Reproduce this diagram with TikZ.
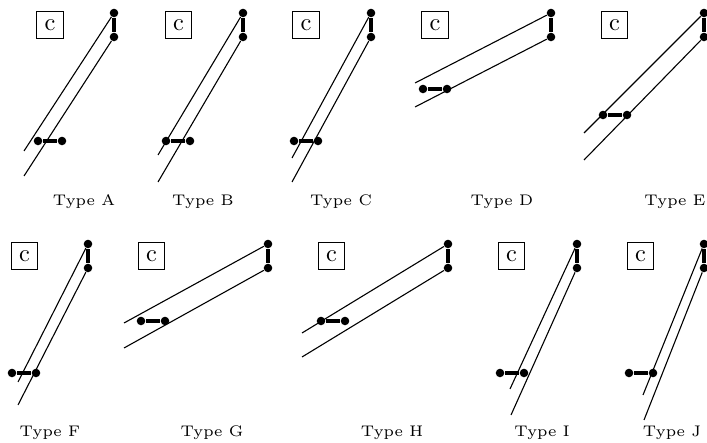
\documentclass[tikz,border=0pt]{standalone}
\usepackage{tikz}

\begin{document}
\begin{tikzpicture}[x=0.41pt,y=-0.41pt,
  dot/.style={circle,fill,inner sep=0pt,minimum size=3.5pt},
  cbox/.style={draw,line width=0.4pt,minimum size=10.8pt,inner sep=0pt},
  bar/.style={line width=1.3pt},
  rail/.style={line width=0.45pt},
  caption/.style={anchor=base,font=\fontsize{6.3}{7}\selectfont}]
\useasboundingbox (0,0) rectangle (707,443);

\node[cbox] (cA) at (50,25) {c};
\node[dot] (tA) at (114,13) {};
\node[dot] (bA) at (114,37) {};
\node[dot] (pA) at (38,141) {};
\node[dot] (qA) at (62,141) {};
\coordinate (lA) at (24,151);
\coordinate (rA) at (24,176);
\draw[rail] (tA) -- (lA);
\draw[rail] (bA) -- (rA);
\draw[bar] (tA) -- (bA);
\draw[bar] (pA) -- (qA);
\node[caption] (nA) at (84,206) {Type A};

\node[cbox] (cB) at (178.5,25) {c};
\node[dot] (tB) at (243,13) {};
\node[dot] (bB) at (243,37) {};
\node[dot] (pB) at (166,141) {};
\node[dot] (qB) at (190,141) {};
\coordinate (lB) at (158,155);
\coordinate (rB) at (158,182);
\draw[rail] (tB) -- (lB);
\draw[rail] (bB) -- (rB);
\draw[bar] (tB) -- (bB);
\draw[bar] (pB) -- (qB);
\node[caption] (nB) at (203,206) {Type B};

\node[cbox] (cC) at (306,25) {c};
\node[dot] (tC) at (371,13) {};
\node[dot] (bC) at (371,37) {};
\node[dot] (pC) at (294,141) {};
\node[dot] (qC) at (318,141) {};
\coordinate (lC) at (292,158);
\coordinate (rC) at (292,182);
\draw[rail] (tC) -- (lC);
\draw[rail] (bC) -- (rC);
\draw[bar] (tC) -- (bC);
\draw[bar] (pC) -- (qC);
\node[caption] (nC) at (341,206) {Type C};

\node[cbox] (cD) at (435,25) {c};
\node[dot] (tD) at (551,13) {};
\node[dot] (bD) at (551,37) {};
\node[dot] (pD) at (423,89) {};
\node[dot] (qD) at (447,89) {};
\coordinate (lD) at (415,83);
\coordinate (rD) at (415,107);
\draw[rail] (tD) -- (lD);
\draw[rail] (bD) -- (rD);
\draw[bar] (tD) -- (bD);
\draw[bar] (pD) -- (qD);
\node[caption] (nD) at (502,206) {Type D};

\node[cbox] (cE) at (614.5,25) {c};
\node[dot] (tE) at (704,13) {};
\node[dot] (bE) at (704,37) {};
\node[dot] (pE) at (603,115) {};
\node[dot] (qE) at (627,115) {};
\coordinate (lE) at (584,133);
\coordinate (rE) at (584,160);
\draw[rail] (tE) -- (lE);
\draw[rail] (bE) -- (rE);
\draw[bar] (tE) -- (bE);
\draw[bar] (pE) -- (qE);
\node[caption] (nE) at (675,206) {Type E};

\node[cbox] (cF) at (24.5,256) {c};
\node[dot] (tF) at (88,244) {};
\node[dot] (bF) at (88,268) {};
\node[dot] (pF) at (12,373) {};
\node[dot] (qF) at (36,373) {};
\coordinate (lF) at (18,382);
\coordinate (rF) at (18,405);
\draw[rail] (tF) -- (lF);
\draw[rail] (bF) -- (rF);
\draw[bar] (tF) -- (bF);
\draw[bar] (pF) -- (qF);
\node[caption] (nF) at (50,437) {Type F};

\node[cbox] (cG) at (151.5,256) {c};
\node[dot] (tG) at (268,244) {};
\node[dot] (bG) at (268,268) {};
\node[dot] (pG) at (141,321) {};
\node[dot] (qG) at (165,321) {};
\coordinate (lG) at (124,323);
\coordinate (rG) at (124,348);
\draw[rail] (tG) -- (lG);
\draw[rail] (bG) -- (rG);
\draw[bar] (tG) -- (bG);
\draw[bar] (pG) -- (qG);
\node[caption] (nG) at (212,437) {Type G};

\node[cbox] (cH) at (331.5,256) {c};
\node[dot] (tH) at (448,244) {};
\node[dot] (bH) at (448,268) {};
\node[dot] (pH) at (321,321) {};
\node[dot] (qH) at (345,321) {};
\coordinate (lH) at (302,333);
\coordinate (rH) at (302,357);
\draw[rail] (tH) -- (lH);
\draw[rail] (bH) -- (rH);
\draw[bar] (tH) -- (bH);
\draw[bar] (pH) -- (qH);
\node[caption] (nH) at (392,437) {Type H};

\node[cbox] (cI) at (511.5,256) {c};
\node[dot] (tI) at (577,244) {};
\node[dot] (bI) at (577,268) {};
\node[dot] (pI) at (500,373) {};
\node[dot] (qI) at (524,373) {};
\coordinate (lI) at (510,389);
\coordinate (rI) at (511,415);
\draw[rail] (tI) -- (lI);
\draw[rail] (bI) -- (rI);
\draw[bar] (tI) -- (bI);
\draw[bar] (pI) -- (qI);
\node[caption] (nI) at (542,437) {Type I};

\node[cbox] (cJ) at (640.5,256) {c};
\node[dot] (tJ) at (704,244) {};
\node[dot] (bJ) at (704,268) {};
\node[dot] (pJ) at (629,373) {};
\node[dot] (qJ) at (653,373) {};
\coordinate (lJ) at (643,395);
\coordinate (rJ) at (644,420);
\draw[rail] (tJ) -- (lJ);
\draw[rail] (bJ) -- (rJ);
\draw[bar] (tJ) -- (bJ);
\draw[bar] (pJ) -- (qJ);
\node[caption] (nJ) at (672,437) {Type J};

\end{tikzpicture}
\end{document}
